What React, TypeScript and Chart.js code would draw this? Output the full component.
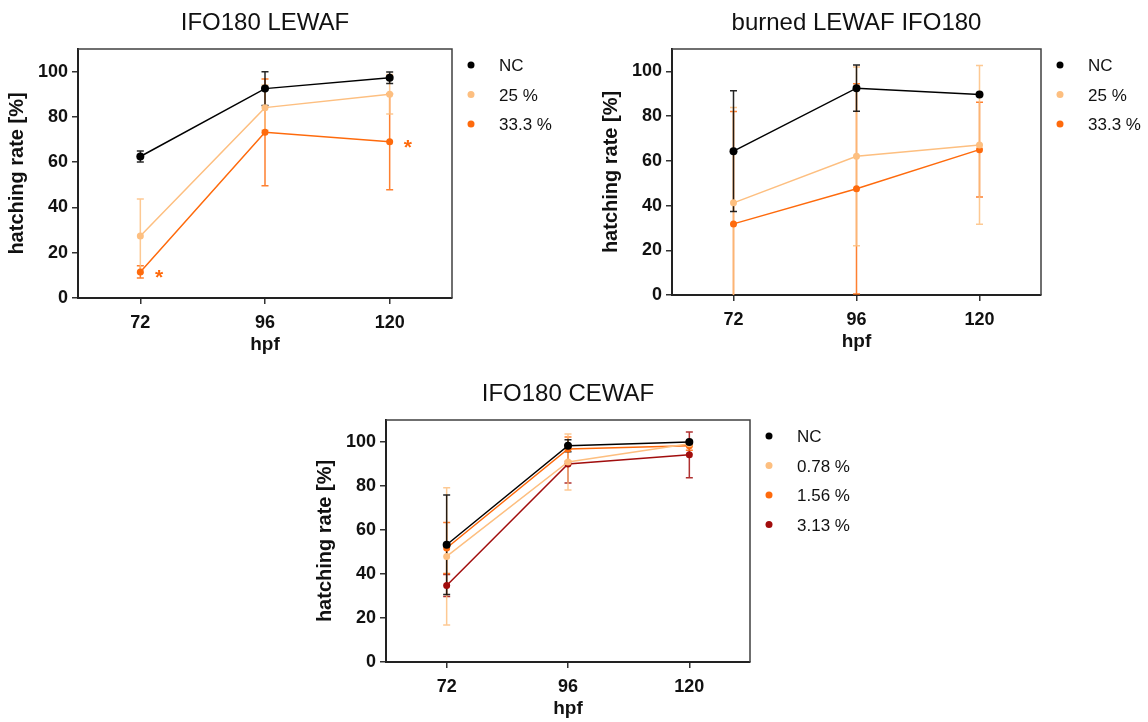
import React, { useEffect, useRef } from 'react';
import { Chart, registerables } from 'chart.js';

Chart.register(...registerables);

// ---------- data ----------
const hpf = [72, 96, 120];
const yTickValues = [0, 20, 40, 60, 80, 100];
const xAxisLabel = 'hpf';
const yAxisLabel = 'hatching rate [%]';

// Chart 1: IFO180 LEWAF
const title1 = 'IFO180 LEWAF';
const labels1 = ['NC', '25 %', '33.3 %'];
const lewafNC = [62.5, 92.5, 97.3];
const lewafNCErr = [2.4, 7.5, 2.5];
const lewaf25 = [27.4, 84.1, 90];
const lewaf25Err = [16.3, 10, 8.7];
const lewaf333 = [11.5, 73.2, 69];
const lewaf333Err = [2.7, 23.6, 21.2];
const lewafStarsX = [75.6, 123.5];
const lewafStarsY = [11, 68.5];

// Chart 2: burned LEWAF IFO180
const title2 = 'burned LEWAF IFO180';
const labels2 = ['NC', '25 %', '33.3 %'];
const burnedNC = [64.3, 92.5, 89.6];
const burnedNCErr = [27, 10.3, 0];
const burned25 = [41.2, 62, 67.1];
const burned25Err = [42.6, 40, 35.5];
const burned333 = [31.8, 47.5, 65];
const burned333Err = [50.3, 47, 21.2];

// Chart 3: IFO180 CEWAF
const title3 = 'IFO180 CEWAF';
const labels3 = ['NC', '0.78 %', '1.56 %', '3.13 %'];
const cewafNC = [53.3, 98.3, 100];
const cewafNCErr = [22.6, 2.7, 0];
const cewaf078 = [48, 90.9, 99.2];
const cewaf078Err = [31.2, 12.7, 1];
const cewaf156 = [51.8, 96.8, 98.3];
const cewaf156Err = [11.6, 5.5, 2];
const cewaf313 = [34.8, 90, 94.2];
const cewaf313Err = [5, 8.6, 10.4];

// ---------- style ----------
const BLACK = '#000000';
const LIGHT = '#fdbf80';
const ORANGE = '#fe6a0c';
const DARKRED = '#a10d0d';
const FONT = '"Liberation Sans", Arial, Helvetica, sans-serif';
const W = 1148;
const H = 722;

type Series = { label: string; values: number[]; errors: number[]; color: string; radius: number };
type Spec = {
  title: string;
  series: Series[];
  area: { l: number; t: number; r: number; b: number };
  yAxisLeft: number;
  xAxisBottom: number;
  xTitlePad: number;
  stars?: { x: number[]; y: number[]; color: string };
};

function makePlugin(spec: Spec) {
  return {
    id: 'custom_' + spec.title.replace(/\s/g, '_'),
    beforeDatasetsDraw(chart: any) {
      const { ctx, chartArea: a, scales } = chart;
      const x = scales.x;
      const y = scales.y;
      ctx.save();
      ctx.beginPath();
      ctx.rect(a.left, a.top, a.right - a.left, a.bottom - a.top);
      ctx.clip();
      ctx.lineWidth = 1.5;
      ctx.globalAlpha = 0.85;
      for (let d = spec.series.length - 1; d >= 0; d--) {
        const s = spec.series[d];
        ctx.strokeStyle = s.color;
        hpf.forEach((xv, i) => {
          const e = s.errors[i];
          if (!e) return;
          const px = x.getPixelForValue(xv);
          const y1 = y.getPixelForValue(s.values[i] + e);
          const y2 = y.getPixelForValue(s.values[i] - e);
          ctx.beginPath();
          ctx.moveTo(px, y1);
          ctx.lineTo(px, y2);
          ctx.moveTo(px - 3.5, y1);
          ctx.lineTo(px + 3.5, y1);
          ctx.moveTo(px - 3.5, y2);
          ctx.lineTo(px + 3.5, y2);
          ctx.stroke();
        });
      }
      ctx.restore();
    },
    afterDraw(chart: any) {
      const { ctx, chartArea: a, scales } = chart;
      ctx.save();
      // frame top/right
      ctx.strokeStyle = '#404040';
      ctx.lineWidth = 1.5;
      ctx.beginPath();
      ctx.moveTo(a.left, a.top);
      ctx.lineTo(a.right, a.top);
      ctx.lineTo(a.right, a.bottom);
      ctx.stroke();
      // title
      ctx.fillStyle = '#111';
      ctx.font = `24px ${FONT}`;
      ctx.textAlign = 'center';
      ctx.textBaseline = 'alphabetic';
      ctx.fillText(spec.title, (a.left + a.right) / 2, a.top - 19.5);
      // legend
      ctx.textAlign = 'left';
      ctx.font = `17px ${FONT}`;
      spec.series.forEach((s, i) => {
        const cy = a.top + 16 + i * 29.5;
        ctx.fillStyle = s.color;
        ctx.beginPath();
        ctx.arc(a.right + 19, cy, 3.5, 0, Math.PI * 2);
        ctx.fill();
        ctx.fillStyle = '#111';
        ctx.fillText(s.label, a.right + 47, cy + 6);
      });
      // significance stars
      if (spec.stars) {
        ctx.fillStyle = spec.stars.color;
        ctx.font = `bold 21px ${FONT}`;
        ctx.textAlign = 'center';
        spec.stars.x.forEach((sx, i) => {
          const px = scales.x.getPixelForValue(sx);
          const py = scales.y.getPixelForValue(spec.stars!.y[i]);
          ctx.fillText('*', px, py + 11);
        });
      }
      ctx.restore();
    },
  };
}

function makeConfig(spec: Spec): any {
  const { area } = spec;
  const yw = area.l - spec.yAxisLeft;
  const xh = spec.xAxisBottom - area.b;
  const grid = {
    display: true,
    drawOnChartArea: false,
    drawTicks: true,
    tickLength: 6,
    color: '#333',
    lineWidth: 1.5,
  };
  const border = { display: true, color: '#222', width: 2 };
  const tickFont = { family: FONT, size: 18, weight: 'bold' as const };
  const titleFont = { family: FONT, size: 19, weight: 'bold' as const };
  return {
    type: 'line',
    data: {
      datasets: spec.series.map((s) => ({
        label: s.label,
        data: hpf.map((xv, i) => ({ x: xv, y: s.values[i] })),
        borderColor: s.color,
        backgroundColor: s.color,
        pointRadius: s.radius,
        pointBorderWidth: 0,
        borderWidth: 1.5,
        tension: 0,
        fill: false,
      })),
    },
    options: {
      responsive: false,
      animation: false,
      events: [],
      layout: {
        padding: {
          left: spec.yAxisLeft,
          top: area.t,
          right: W - area.r,
          bottom: H - spec.xAxisBottom,
        },
      },
      plugins: {
        legend: { display: false },
        title: { display: false },
        tooltip: { enabled: false },
      },
      scales: {
        x: {
          type: 'linear',
          min: 60,
          max: 132,
          afterBuildTicks: (s: any) => {
            s.ticks = hpf.map((v) => ({ value: v }));
          },
          afterFit: (s: any) => {
            s.height = xh;
          },
          grid,
          border,
          ticks: { font: tickFont, color: '#111', padding: 8, callback: (v: any) => String(v) },
          title: {
            display: true,
            text: xAxisLabel,
            font: titleFont,
            color: '#111',
            padding: { top: 0, bottom: spec.xTitlePad },
          },
        },
        y: {
          type: 'linear',
          min: 0,
          max: 110,
          afterBuildTicks: (s: any) => {
            s.ticks = yTickValues.map((v) => ({ value: v }));
          },
          afterFit: (s: any) => {
            s.width = yw;
          },
          grid,
          border,
          ticks: { font: tickFont, color: '#111', padding: 4, callback: (v: any) => String(v) },
          title: {
            display: true,
            text: yAxisLabel,
            font: { family: FONT, size: 20, weight: 'bold' as const },
            color: '#111',
            padding: { top: 5, bottom: 0 },
          },
        },
      },
    },
    plugins: [makePlugin(spec)],
  };
}

const spec1: Spec = {
  title: title1,
  series: [
    { label: labels1[0], values: lewafNC, errors: lewafNCErr, color: BLACK, radius: 4 },
    { label: labels1[1], values: lewaf25, errors: lewaf25Err, color: LIGHT, radius: 3.5 },
    { label: labels1[2], values: lewaf333, errors: lewaf333Err, color: ORANGE, radius: 3.5 },
  ],
  area: { l: 78, t: 49, r: 452, b: 298 },
  yAxisLeft: 0,
  xAxisBottom: 360,
  xTitlePad: 4,
  stars: { x: lewafStarsX, y: lewafStarsY, color: ORANGE },
};

const spec2: Spec = {
  title: title2,
  series: [
    { label: labels2[0], values: burnedNC, errors: burnedNCErr, color: BLACK, radius: 4 },
    { label: labels2[1], values: burned25, errors: burned25Err, color: LIGHT, radius: 3.5 },
    { label: labels2[2], values: burned333, errors: burned333Err, color: ORANGE, radius: 3.5 },
  ],
  area: { l: 672, t: 49, r: 1041, b: 295 },
  yAxisLeft: 594,
  xAxisBottom: 357,
  xTitlePad: 4,
};

const spec3: Spec = {
  title: title3,
  series: [
    { label: labels3[0], values: cewafNC, errors: cewafNCErr, color: BLACK, radius: 4 },
    { label: labels3[1], values: cewaf078, errors: cewaf078Err, color: LIGHT, radius: 3.5 },
    { label: labels3[2], values: cewaf156, errors: cewaf156Err, color: ORANGE, radius: 3.5 },
    { label: labels3[3], values: cewaf313, errors: cewaf313Err, color: DARKRED, radius: 3.5 },
  ],
  area: { l: 386, t: 420, r: 750, b: 662 },
  yAxisLeft: 308,
  xAxisBottom: 722,
  xTitlePad: 1.6,
};

function Panel({ spec }: { spec: Spec }) {
  const ref = useRef<HTMLCanvasElement | null>(null);
  useEffect(() => {
    if (!ref.current) return;
    const chart = new Chart(ref.current, makeConfig(spec));
    return () => chart.destroy();
  }, [spec]);
  return (
    <canvas
      ref={ref}
      width={W}
      height={H}
      style={{ position: 'absolute', left: 0, top: 0, width: W, height: H }}
    />
  );
}

export default function App() {
  return (
    <div style={{ position: 'fixed', left: 0, top: 0, width: W, height: H, background: '#fff' }}>
      <Panel spec={spec1} />
      <Panel spec={spec2} />
      <Panel spec={spec3} />
    </div>
  );
}
